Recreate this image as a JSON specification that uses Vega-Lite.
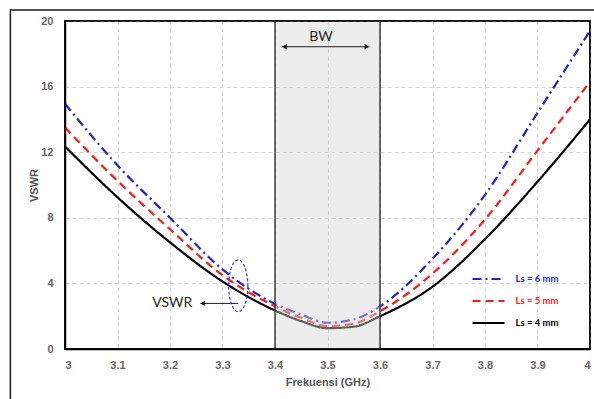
{
  "$schema": "https://vega.github.io/schema/vega-lite/v6.json",
  "width": 525,
  "height": 328,
  "autosize": {"type": "none"},
  "padding": {"left": 65, "top": 21, "right": 4, "bottom": 50},
  "background": "white",
  "config": {
    "view": {"stroke": "#000", "strokeWidth": 1.5},
    "axis": {
      "domainColor": "#000",
      "domainWidth": 1.5,
      "ticks": false,
      "gridColor": "#d4d4d4",
      "gridDash": [4, 3],
      "gridWidth": 1,
      "labelFont": "Liberation Sans",
      "labelFontSize": 11,
      "labelFontWeight": "bold",
      "labelColor": "#666",
      "titleFont": "Liberation Sans",
      "titleFontSize": 11,
      "titleFontWeight": "bold",
      "titleColor": "#555"
    }
  },
  "encoding": {
    "x": {"field": "freq", "type": "quantitative", "scale": {"domain": [3, 4], "nice": false, "zero": false},
          "axis": {"values": [3, 3.1, 3.2, 3.3, 3.4, 3.5, 3.6, 3.7, 3.8, 3.9, 4], "format": ".1~f", "labelPadding": 10, "titlePadding": 6, "title": "Frekuensi (GHz)"}},
    "y": {"field": "vswr", "type": "quantitative", "scale": {"domain": [0, 20], "nice": false},
          "axis": {"values": [0, 4, 8, 12, 16, 20], "labelPadding": 12, "titlePadding": 1, "title": "VSWR"}}
  },
  "layer": [
    {
      "data": {"values": [{"freq": 2.896, "freq2": 4.3, "vswr": 20.67, "vswr2": -6}]},
      "mark": {"type": "rect", "filled": false, "stroke": "#1a1a1a", "strokeWidth": 1.5, "clip": false},
      "encoding": {
        "x2": {"field": "freq2"},
        "y2": {"field": "vswr2"}
      }
    },
    {
      "data": {"values": [
        {"freq": 3.0, "vswr": 12.35, "series": "Ls = 4 mm"},
        {"freq": 3.1, "vswr": 9.25, "series": "Ls = 4 mm"},
        {"freq": 3.2, "vswr": 6.5, "series": "Ls = 4 mm"},
        {"freq": 3.3, "vswr": 4.12, "series": "Ls = 4 mm"},
        {"freq": 3.4, "vswr": 2.35, "series": "Ls = 4 mm"},
        {"freq": 3.45, "vswr": 1.7, "series": "Ls = 4 mm"},
        {"freq": 3.5, "vswr": 1.27, "series": "Ls = 4 mm"},
        {"freq": 3.55, "vswr": 1.36, "series": "Ls = 4 mm"},
        {"freq": 3.6, "vswr": 2.0, "series": "Ls = 4 mm"},
        {"freq": 3.7, "vswr": 3.8, "series": "Ls = 4 mm"},
        {"freq": 3.8, "vswr": 6.7, "series": "Ls = 4 mm"},
        {"freq": 3.9, "vswr": 10.2, "series": "Ls = 4 mm"},
        {"freq": 4.0, "vswr": 14.0, "series": "Ls = 4 mm"},
        {"freq": 3.0, "vswr": 13.5, "series": "Ls = 5 mm"},
        {"freq": 3.1, "vswr": 10.25, "series": "Ls = 5 mm"},
        {"freq": 3.2, "vswr": 7.3, "series": "Ls = 5 mm"},
        {"freq": 3.3, "vswr": 4.5, "series": "Ls = 5 mm"},
        {"freq": 3.4, "vswr": 2.6, "series": "Ls = 5 mm"},
        {"freq": 3.45, "vswr": 1.9, "series": "Ls = 5 mm"},
        {"freq": 3.5, "vswr": 1.4, "series": "Ls = 5 mm"},
        {"freq": 3.55, "vswr": 1.55, "series": "Ls = 5 mm"},
        {"freq": 3.6, "vswr": 2.3, "series": "Ls = 5 mm"},
        {"freq": 3.7, "vswr": 4.6, "series": "Ls = 5 mm"},
        {"freq": 3.8, "vswr": 7.9, "series": "Ls = 5 mm"},
        {"freq": 3.9, "vswr": 12.1, "series": "Ls = 5 mm"},
        {"freq": 4.0, "vswr": 16.3, "series": "Ls = 5 mm"},
        {"freq": 3.0, "vswr": 14.95, "series": "Ls = 6 mm"},
        {"freq": 3.1, "vswr": 11.2, "series": "Ls = 6 mm"},
        {"freq": 3.2, "vswr": 8.0, "series": "Ls = 6 mm"},
        {"freq": 3.3, "vswr": 4.85, "series": "Ls = 6 mm"},
        {"freq": 3.4, "vswr": 2.75, "series": "Ls = 6 mm"},
        {"freq": 3.45, "vswr": 2.1, "series": "Ls = 6 mm"},
        {"freq": 3.5, "vswr": 1.6, "series": "Ls = 6 mm"},
        {"freq": 3.55, "vswr": 1.8, "series": "Ls = 6 mm"},
        {"freq": 3.6, "vswr": 2.6, "series": "Ls = 6 mm"},
        {"freq": 3.7, "vswr": 5.5, "series": "Ls = 6 mm"},
        {"freq": 3.8, "vswr": 9.4, "series": "Ls = 6 mm"},
        {"freq": 3.9, "vswr": 14.4, "series": "Ls = 6 mm"},
        {"freq": 4.0, "vswr": 19.4, "series": "Ls = 6 mm"}
      ]},
      "mark": {"type": "line", "interpolate": "monotone", "strokeWidth": 2.2},
      "encoding": {
        "color": {
          "field": "series", "type": "nominal",
          "scale": {"domain": ["Ls = 6 mm", "Ls = 5 mm", "Ls = 4 mm"], "range": ["#2323c6", "#ff1a1a", "#000000"]},
          "legend": {
            "title": null,
            "orient": "none",
            "legendX": 412.5,
            "legendY": 247,
            "padding": 0,
            "symbolType": "M-1.6,0L1.6,0",
            "symbolSize": 400,
            "symbolStrokeWidth": 2,
            "labelOffset": 16,
            "rowPadding": 6,
            "labelFont": "Lato",
            "labelFontSize": 9.5,
            "labelFontWeight": "bold",
            "encode": {"labels": {"update": {"fill": {"signal": "scale('color', datum.value)"}}}}
          }
        },
        "strokeDash": {
          "field": "series", "type": "nominal",
          "scale": {"domain": ["Ls = 6 mm", "Ls = 5 mm", "Ls = 4 mm"], "range": [[9, 4, 2, 4], [8, 5], [1, 0]]},
          "legend": {
            "title": null,
            "orient": "none",
            "legendX": 412.5,
            "legendY": 247,
            "padding": 0,
            "symbolType": "M-1.6,0L1.6,0",
            "symbolSize": 400,
            "symbolStrokeWidth": 2,
            "labelOffset": 16,
            "rowPadding": 6,
            "labelFont": "Lato",
            "labelFontSize": 9.5,
            "labelFontWeight": "bold",
            "encode": {"labels": {"update": {"fill": {"signal": "scale('color', datum.value)"}}}}
          }
        }
      }
    },
    {
      "data": {"values": [{"freq": 3.4, "freq2": 3.6, "vswr": 0, "vswr2": 20}]},
      "mark": {"type": "rect", "fill": "#d8d8d8", "opacity": 0.45},
      "encoding": {
        "x2": {"field": "freq2"},
        "y2": {"field": "vswr2"}
      }
    },
    {
      "data": {"values": [{"freq": 3.4, "vswr": 0, "vswr2": 20}, {"freq": 3.6, "vswr": 0, "vswr2": 20}]},
      "mark": {"type": "rule", "color": "#3a3a3a", "strokeWidth": 1.5},
      "encoding": {
        "y2": {"field": "vswr2"}
      }
    },
    {
      "data": {"values": [{"freq": 3, "freq2": 4, "vswr": 0, "vswr2": 20}]},
      "mark": {"type": "rect", "filled": false, "stroke": "#000", "strokeWidth": 1.5},
      "encoding": {
        "x2": {"field": "freq2"},
        "y2": {"field": "vswr2"}
      }
    },
    {
      "data": {"values": [
        {"freq": 3.414, "freq2": 3.579, "vswr": 18.43},
        {"freq": 3.258, "freq2": 3.33, "vswr": 2.78}
      ]},
      "mark": {"type": "rule", "color": "#1a1a1a", "strokeWidth": 1},
      "encoding": {
        "x2": {"field": "freq2"}
      }
    },
    {
      "data": {"values": [
        {"freq": 3.418, "vswr": 18.43, "dir": "triangle-left"},
        {"freq": 3.575, "vswr": 18.43, "dir": "triangle-right"},
        {"freq": 3.262, "vswr": 2.78, "dir": "triangle-left"}
      ]},
      "mark": {"type": "point", "filled": true, "color": "#1a1a1a", "size": 28, "opacity": 1},
      "encoding": {
        "shape": {"field": "dir", "type": "nominal", "scale": {"domain": ["triangle-left", "triangle-right"], "range": ["triangle-left", "triangle-right"]}, "legend": null}
      }
    },
    {
      "data": {"values": [{"freq": 3.33, "vswr": 3.85}]},
      "mark": {
        "type": "point", "filled": false, "stroke": "#3535d8", "strokeWidth": 1.2, "strokeDash": [3, 2], "size": 2704, "opacity": 1,
        "shape": "M0.37,0L0.357,0.259L0.32,0.5L0.262,0.707L0.185,0.866L0.096,0.966L0,1L-0.096,0.966L-0.185,0.866L-0.262,0.707L-0.32,0.5L-0.357,0.259L-0.37,0L-0.357,-0.259L-0.32,-0.5L-0.262,-0.707L-0.185,-0.866L-0.096,-0.966L0,-1L0.096,-0.966L0.185,-0.866L0.262,-0.707L0.32,-0.5L0.357,-0.259Z"
      }
    },
    {
      "data": {"values": [
        {"freq": 3.4875, "vswr": 19.0, "label": "BW", "al": "center"},
        {"freq": 3.2425, "vswr": 2.78, "label": "VSWR", "al": "right"}
      ]},
      "mark": {"type": "text", "font": "Lato", "fontSize": 14, "color": "#262626", "baseline": "middle", "align": {"expr": "datum.al"}},
      "encoding": {
        "text": {"field": "label"}
      }
    }
  ]
}
